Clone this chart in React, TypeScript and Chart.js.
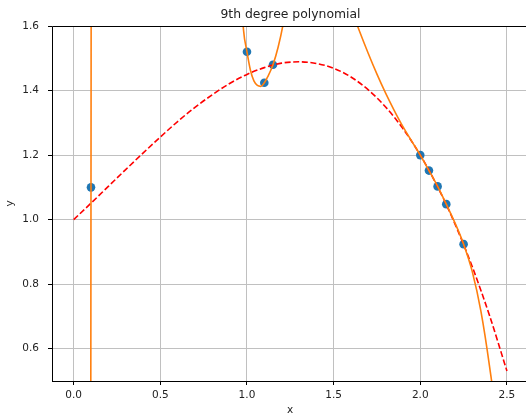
import React, { useEffect, useRef } from "react";
import { Chart, registerables } from "chart.js";

Chart.register(...registerables);

// Axis ticks
const X_TICKS = [0, 0.5, 1.0, 1.5, 2.0, 2.5];
const Y_TICKS = [0.6, 0.8, 1.0, 1.2, 1.4, 1.6];

// Sampled points (blue)
const SAMPLE_X = [0.1, 1.0, 1.1, 1.15, 2.0, 2.05, 2.1, 2.15, 2.25];
const SAMPLE_Y = [1.1, 1.52, 1.424, 1.48, 1.2, 1.152, 1.103, 1.048, 0.924];

// True curve (red dashed)
const TRUE_X = [0, 0.1, 0.2, 0.3, 0.4, 0.5, 0.6, 0.7, 0.8, 0.9, 1.0, 1.1, 1.2, 1.3, 1.4, 1.5, 1.6, 1.7, 1.8, 1.9, 2.0, 2.1, 2.2, 2.3, 2.4, 2.5];
const TRUE_Y = [1.0, 1.051, 1.103, 1.155, 1.206, 1.256, 1.304, 1.348, 1.387, 1.422, 1.45, 1.471, 1.485, 1.489, 1.484, 1.469, 1.442, 1.402, 1.349, 1.282, 1.2, 1.102, 0.987, 0.854, 0.702, 0.531];

// 9th degree polynomial fit (orange), values off the visible range are clipped
const FIT_X = [0.0, 0.098, 0.1, 0.102, 0.3, 0.6, 0.9, 0.95, 0.965, 0.98, 1.0, 1.02, 1.04, 1.06, 1.08, 1.1, 1.12, 1.15, 1.18, 1.21, 1.24, 1.3, 1.4, 1.5, 1.55, 1.6, 1.65, 1.7, 1.75, 1.8, 1.85, 1.9, 1.95, 2.0, 2.05, 2.1, 2.15, 2.2, 2.25, 2.3, 2.35, 2.4, 2.45, 2.5];
const FIT_Y = [-20, 0.0, 1.1, 2.2, 30, 40, 8, 1.95, 1.72, 1.588, 1.52, 1.463, 1.43, 1.416, 1.413, 1.424, 1.443, 1.48, 1.535, 1.61, 1.72, 2.0, 2.1, 1.83, 1.74, 1.656, 1.583, 1.515, 1.451, 1.392, 1.338, 1.288, 1.2435, 1.2, 1.152, 1.103, 1.048, 0.99, 0.924, 0.839, 0.716, 0.544, 0.33, 0.0];

const TITLE = "9th degree polynomial";
const X_LABEL = "x";
const Y_LABEL = "y";

const FONT = "'DejaVu Sans', sans-serif";
const TEXT = "#222";

const pts = (xs: number[], ys: number[]) => xs.map((x, i) => ({ x, y: ys[i] }));

const decorPlugin = {
  id: "decor",
  afterDatasetsDraw(chart: any) {
    const { ctx, chartArea } = chart;
    const { left, right, top, bottom } = chartArea;
    ctx.save();
    ctx.strokeStyle = "#000";
    ctx.lineWidth = 1;
    ctx.beginPath();
    ctx.moveTo(left + 0.5, bottom);
    ctx.lineTo(left + 0.5, top + 0.5);
    ctx.lineTo(right, top + 0.5);
    ctx.moveTo(left, bottom + 0.5);
    ctx.lineTo(right, bottom + 0.5);
    ctx.stroke();
    ctx.restore();
  },
  afterDraw(chart: any) {
    const { ctx, chartArea } = chart;
    const { top, bottom } = chartArea;
    ctx.save();
    ctx.fillStyle = TEXT;
    ctx.textAlign = "center";
    ctx.textBaseline = "alphabetic";
    ctx.font = `12.4px ${FONT}`;
    ctx.fillText(TITLE, 290.5, 18);
    ctx.font = `10.5px ${FONT}`;
    ctx.fillText(X_LABEL, 290, 413);
    ctx.translate(13, (top + bottom) / 2);
    ctx.rotate(-Math.PI / 2);
    ctx.fillText(Y_LABEL, 0, 0);
    ctx.restore();
  },
};

export default function App() {
  const ref = useRef<HTMLCanvasElement | null>(null);
  useEffect(() => {
    if (!ref.current) return;
    const chart = new Chart(ref.current, {
      type: "scatter",
      data: {
        datasets: [
          {
            data: pts(FIT_X, FIT_Y),
            showLine: true,
            borderColor: "#ff7f0e",
            borderWidth: 1.6,
            pointRadius: 0,
            cubicInterpolationMode: "monotone",
            clip: 0,
          } as any,
          {
            data: pts(TRUE_X, TRUE_Y),
            showLine: true,
            borderColor: "#ff0000",
            borderWidth: 1.6,
            borderDash: [6, 2.6],
            pointRadius: 0,
            cubicInterpolationMode: "monotone",
            clip: 0,
          } as any,
          {
            data: pts(SAMPLE_X, SAMPLE_Y),
            showLine: false,
            backgroundColor: "#1f77b4",
            borderColor: "#1f77b4",
            borderWidth: 0,
            pointRadius: 4.3,
            clip: 0,
          } as any,
        ],
      },
      options: {
        animation: false,
        responsive: false,
        events: [],
        layout: { autoPadding: false, padding: { left: 0, right: 0, top: 26, bottom: 0 } },
        plugins: { legend: { display: false }, tooltip: { enabled: false }, title: { display: false } },
        scales: {
          x: {
            type: "linear",
            min: -0.125,
            max: 2.61,
            afterFit: (s: any) => { s.height = 34; s.paddingLeft = 0; s.paddingRight = 0; },
            afterBuildTicks: (s: any) => { s.ticks = X_TICKS.map((v) => ({ value: v })); },
            grid: { color: "#c0c0c0", lineWidth: 1, drawTicks: true, tickLength: 4, tickColor: "#000", tickWidth: 1 },
            border: { display: false },
            ticks: {
              padding: 4,
              color: TEXT,
              font: { family: FONT, size: 10.5 },
              maxRotation: 0,
              autoSkip: false,
              callback: (v: any) => Number(v).toFixed(1),
            },
          },
          y: {
            type: "linear",
            min: 0.5,
            max: 1.6,
            afterFit: (s: any) => { s.width = 52; s.paddingTop = 0; s.paddingBottom = 0; },
            afterBuildTicks: (s: any) => { s.ticks = Y_TICKS.map((v) => ({ value: v })); },
            grid: { color: "#c0c0c0", lineWidth: 1, drawTicks: true, tickLength: 4, tickColor: "#000", tickWidth: 1 },
            border: { display: false },
            ticks: {
              padding: 9,
              color: TEXT,
              font: { family: FONT, size: 10.5 },
              autoSkip: false,
              callback: (v: any) => Number(v).toFixed(1),
            },
          },
        },
      },
      plugins: [decorPlugin],
    });
    return () => chart.destroy();
  }, []);
  return (
    <div style={{ position: "fixed", left: 0, top: 0, width: 526, height: 415, background: "#fff" }}>
      <canvas ref={ref} width={526} height={415} style={{ display: "block" }} />
    </div>
  );
}
